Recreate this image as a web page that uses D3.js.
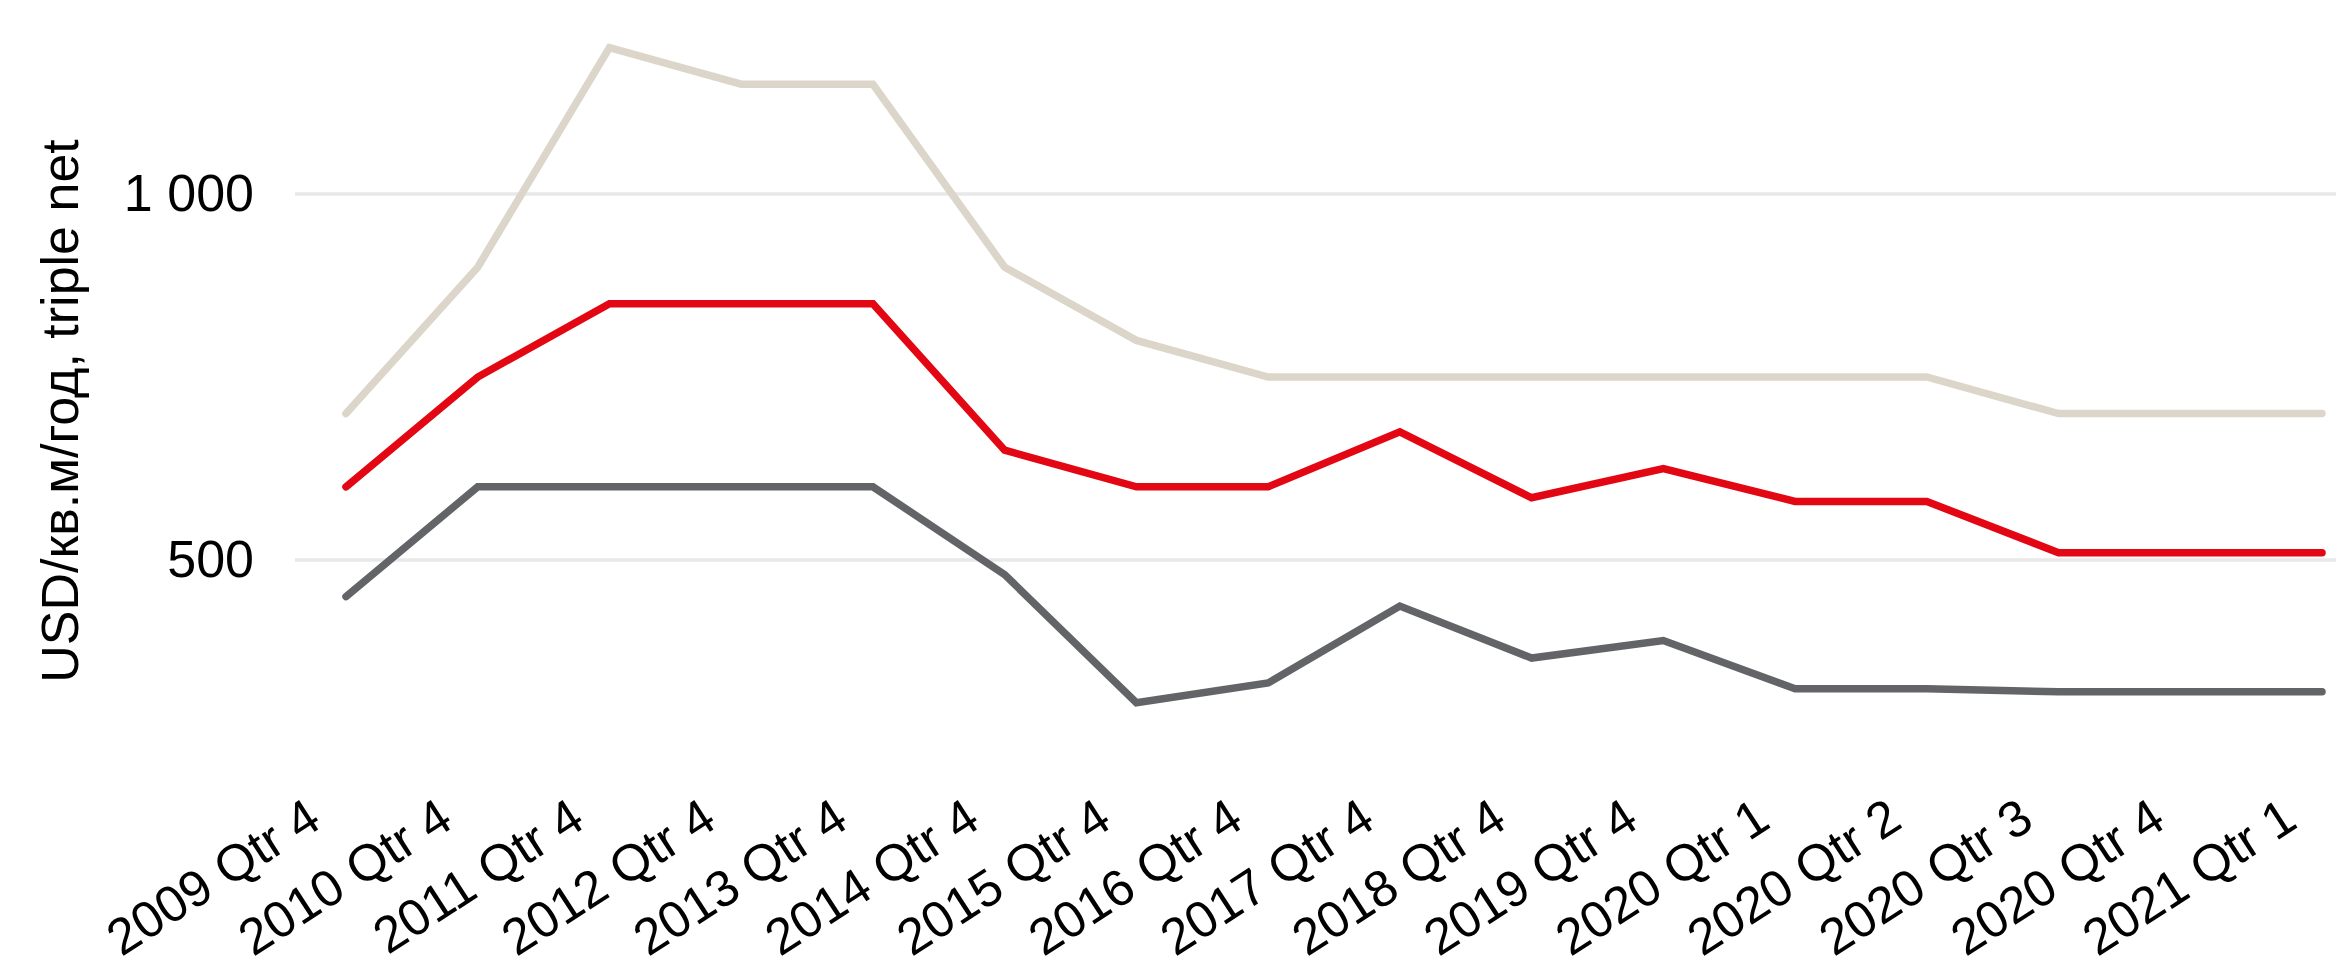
<!DOCTYPE html>
<html>
<head>
<meta charset="utf-8">
<script src="https://cdn.jsdelivr.net/npm/d3@7"></script>
<style>
  html, body { margin: 0; padding: 0; background: #ffffff; }
  svg { display: block; }
  text { font-family: "Liberation Sans", Arial, sans-serif; fill: #000; }
</style>
</head>
<body>
<svg id="chart" width="2336" height="970"></svg>
<script>
// Quarterly rent levels, USD per sq.m per year (triple net)
const categories = [
  "2009 Qtr 4", "2010 Qtr 4", "2011 Qtr 4", "2012 Qtr 4", "2013 Qtr 4",
  "2014 Qtr 4", "2015 Qtr 4", "2016 Qtr 4", "2017 Qtr 4", "2018 Qtr 4",
  "2019 Qtr 4", "2020 Qtr 1", "2020 Qtr 2", "2020 Qtr 3", "2020 Qtr 4",
  "2021 Qtr 1"
];
const rentHigh = [700, 900, 1200, 1150, 1150, 900, 800, 750, 750, 750, 750, 750, 750, 700, 700, 700];
const rentMid  = [600, 750, 850, 850, 850, 650, 600, 600, 675, 585, 625, 580, 580, 510, 510, 510];
const rentLow  = [450, 600, 600, 600, 600, 480, 305, 332, 437, 366, 390, 324, 324, 320, 320, 320];
const yTicks = [500, 1000];
const yTitle = "USD/кв.м/год,  triple net";

const series = [
  { values: rentHigh, color: "#dbd6c9" },
  { values: rentMid,  color: "#e30613" },
  { values: rentLow,  color: "#636467" }
];

const FONT = 52;
const X_FONT = 51;
const svg = d3.select("#chart");

const x = d3.scalePoint().domain(categories).range([346, 2322]);
const y = d3.scaleLinear().domain([250, 1250]).range([743, 11]);

const fmt = d3.formatLocale({ decimal: ",", thousands: " ", grouping: [3], currency: ["", ""] }).format(",");

// horizontal gridlines
svg.append("g")
  .selectAll("line")
  .data(yTicks)
  .join("line")
  .attr("x1", 295)
  .attr("x2", 2336)
  .attr("y1", d => y(d))
  .attr("y2", d => y(d))
  .attr("stroke", "#e8e8e8")
  .attr("stroke-width", 3.5);

// y axis labels
const yAxis = d3.axisLeft(y).tickValues(yTicks).tickFormat(fmt).tickSize(0).tickPadding(0);
const yg = svg.append("g").attr("transform", "translate(254,0)").call(yAxis);
yg.select(".domain").remove();
yg.selectAll("text")
  .attr("font-size", FONT)
  .attr("font-family", "Liberation Sans, Arial, sans-serif")
  .attr("fill", "#000");

// y axis title
svg.append("text")
  .attr("transform", "translate(78,411) rotate(-90)")
  .attr("text-anchor", "middle")
  .attr("font-size", FONT)
  .text(yTitle);

// x axis labels, rotated
const xAxis = d3.axisBottom(x).tickSize(0).tickPadding(0);
const xg = svg.append("g").attr("transform", "translate(0,826)").call(xAxis);
xg.select(".domain").remove();
xg.selectAll("text")
  .attr("font-size", X_FONT)
  .attr("font-family", "Liberation Sans, Arial, sans-serif")
  .attr("fill", "#000")
  .attr("text-anchor", "end")
  .attr("dy", null)
  .attr("y", 0)
  .attr("transform", "translate(-23,0) rotate(-33)");

// series lines
const line = d3.line()
  .x((d, i) => x(categories[i]))
  .y(d => y(d));

svg.append("g")
  .selectAll("path")
  .data(series)
  .join("path")
  .attr("d", d => line(d.values))
  .attr("fill", "none")
  .attr("stroke", d => d.color)
  .attr("stroke-width", 7.5)
  .attr("stroke-linecap", "round")
  .attr("stroke-linejoin", "miter");
</script>
</body>
</html>
